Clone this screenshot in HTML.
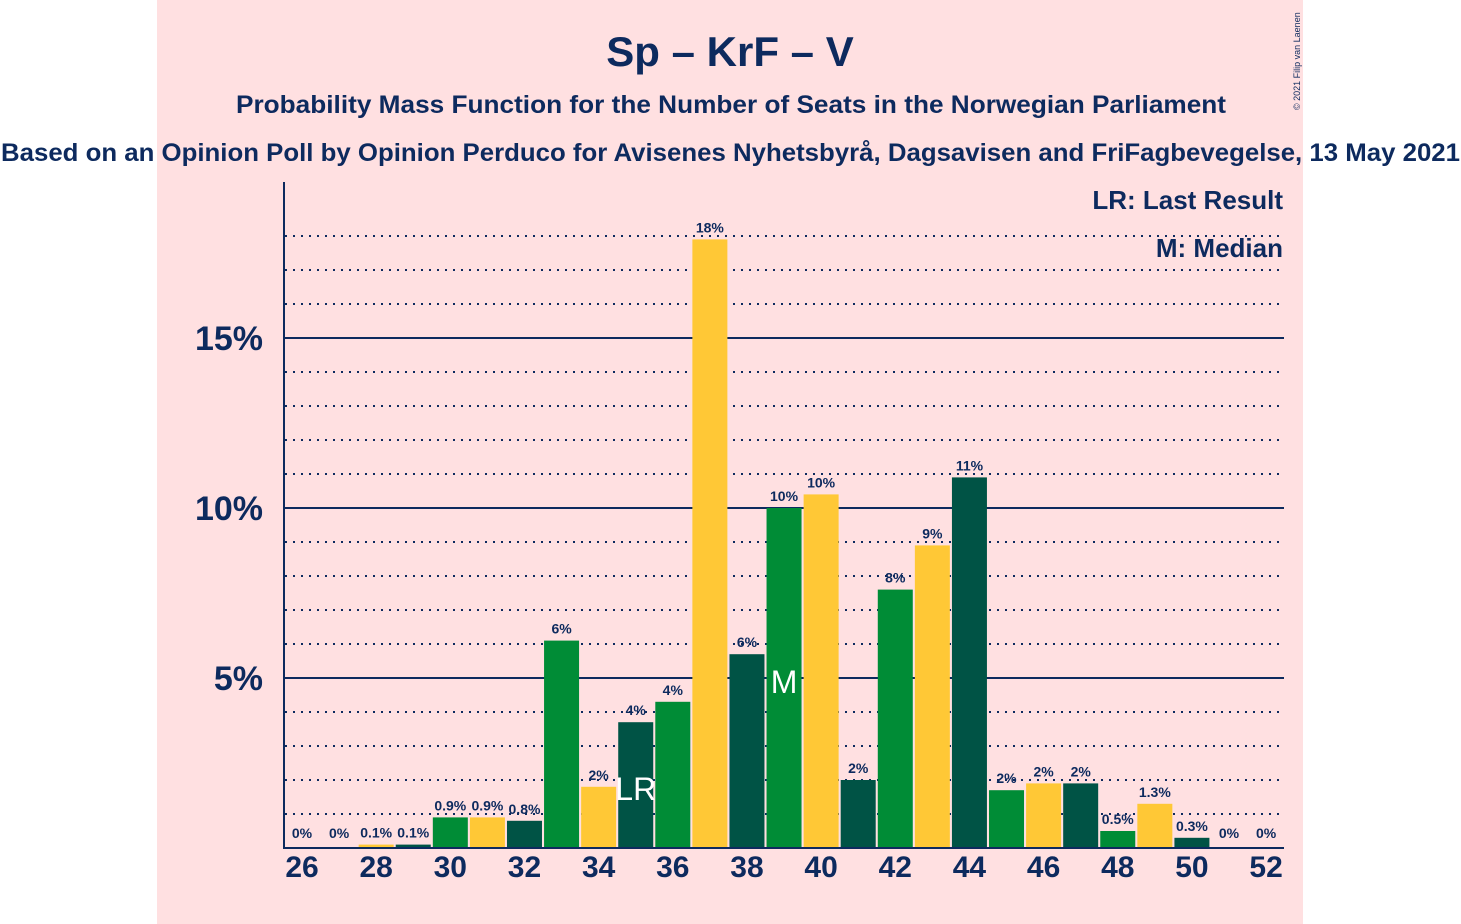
<!DOCTYPE html>
<html><head><meta charset="utf-8"><style>
body{margin:0;background:#fff;}
svg{display:block;font-family:"Liberation Sans",sans-serif;}
</style></head><body>
<svg id="c" width="1461" height="924">
<rect x="157" y="0" width="1146" height="924" fill="#ffe0e1"/>
<text x="730" y="66" text-anchor="middle" font-size="42" font-weight="bold" fill="#0d2a5e">Sp – KrF – V</text>
<text x="236" y="113" textLength="990" lengthAdjust="spacingAndGlyphs" font-size="25" font-weight="bold" fill="#0d2a5e">Probability Mass Function for the Number of Seats in the Norwegian Parliament</text>
<text x="1" y="161" textLength="1459" lengthAdjust="spacingAndGlyphs" font-size="25" font-weight="bold" fill="#0d2a5e">Based on an Opinion Poll by Opinion Perduco for Avisenes Nyhetsbyrå, Dagsavisen and FriFagbevegelse, 13 May 2021</text>
<text x="1283" y="209" text-anchor="end" font-size="26" font-weight="bold" fill="#0d2a5e">LR: Last Result</text>
<text x="1283" y="257" text-anchor="end" font-size="26" font-weight="bold" fill="#0d2a5e">M: Median</text>
<text transform="translate(1300,110) rotate(-90)" font-size="9" fill="#0d2a5e">© 2021 Filip van Laenen</text>
<g id="grid"></g><g id="bars"></g><g id="labels"></g>
<line x1="284" y1="182" x2="284" y2="848" stroke="#0d2a5e" stroke-width="2"/>
<line x1="283" y1="848" x2="1284" y2="848" stroke="#0d2a5e" stroke-width="2"/>
</svg>
<script>
const seats=[26,27,28,29,30,31,32,33,34,35,36,37,38,39,40,41,42,43,44,45,46,47,48,49,50,51,52];
const values=[0,0,0.1,0.1,0.9,0.9,0.8,6.1,1.8,3.7,4.3,17.9,5.7,10.0,10.4,2.0,7.6,8.9,10.9,1.7,1.9,1.9,0.5,1.3,0.3,0,0];
const valueLabels=["0%","0%","0.1%","0.1%","0.9%","0.9%","0.8%","6%","2%","4%","4%","18%","6%","10%","10%","2%","8%","9%","11%","2%","2%","2%","0.5%","1.3%","0.3%","0%","0%"];
const yTicks=[5,10,15];
const xTicks=[26,28,30,32,34,36,38,40,42,44,46,48,50,52];
const lastResult=35, median=39;
const NS="http://www.w3.org/2000/svg";
const X=s=>302+(s-26)*37.08;
const Y=v=>848-v*34;
const colors=["#008c36","#ffc836","#005345"];
function mk(tag,attrs,parent){const e=document.createElementNS(NS,tag);for(const k in attrs)e.setAttribute(k,attrs[k]);document.querySelector(parent).appendChild(e);return e;}
for(let p=1;p<=18;p++){
  const solid=yTicks.includes(p);
  const l=mk('line',{x1:285,x2:1284,y1:Y(p),y2:Y(p),stroke:'#0d2a5e','stroke-width':2,'stroke-dasharray':solid?'':'2,6'},'#grid');
  
  
}
yTicks.forEach(t=>{const e=mk('text',{x:263,y:Y(t)+12,'text-anchor':'end','font-size':34,'font-weight':'bold',fill:'#0d2a5e'},'#labels');e.textContent=t+'%';

});
xTicks.forEach(t=>{const e=mk('text',{x:X(t),y:877,'text-anchor':'middle','font-size':30,'font-weight':'bold',fill:'#0d2a5e'},'#labels');e.textContent=t;

});
seats.forEach((s,i)=>{
  const v=values[i];
  const c=colors[((s-30)%3+3)%3];
  if(v>0){const r=mk('rect',{x:X(s)-17.5,y:Y(v),width:35,height:v*34,fill:c},'#bars');
  
  }
  const t=mk('text',{x:X(s),y:v>0?Y(v)-7:838,'text-anchor':'middle','font-size':14,'font-weight':'bold',fill:'#0d2a5e'},'#labels');
  t.textContent=valueLabels[i];
  
  
  if(s===lastResult){const e=mk('text',{x:X(s),y:800,'text-anchor':'middle','font-size':32,fill:'#fff'},'#labels');e.textContent='LR';
  
  }
  if(s===median){const e=mk('text',{x:X(s),y:693,'text-anchor':'middle','font-size':32,fill:'#fff'},'#labels');e.textContent='M';
  
  }
});
</script>
</body></html>
